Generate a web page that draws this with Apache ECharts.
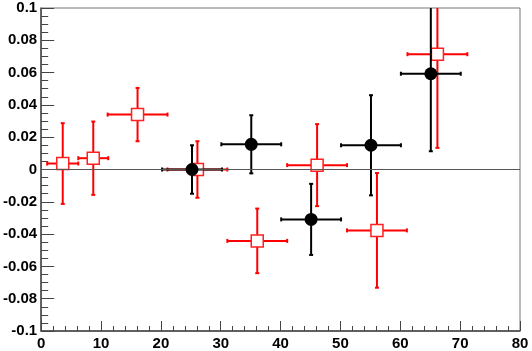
<!DOCTYPE html>
<html>
<head>
<meta charset="utf-8">
<script src="https://cdn.jsdelivr.net/npm/echarts@6/dist/echarts.min.js"></script>
<style>
  html, body { margin: 0; padding: 0; background: #fff; }
  #chart { width: 532px; height: 351px; }
</style>
</head>
<body>
<div id="chart"></div>
<script>
// black points (filled circles)
const blackX = [25.2, 35.1, 45.1, 55.1, 65.1];
const blackY = [0.0, 0.0156, -0.0309, 0.015, 0.0593];
const blackXErr = [5, 5, 5, 5, 5];
const blackYErr = [0.015, 0.018, 0.022, 0.031, 0.048];

// red points (open squares)
const redX = [3.6, 8.7, 16.1, 26.1, 36.1, 46.1, 56.1, 66.2];
const redY = [0.0037, 0.007, 0.034, 0.0, -0.0442, 0.0027, -0.0377, 0.0714];
const redXErr = [2.6, 2.5, 5, 5, 5, 5, 5, 5];
const redYErr = [0.025, 0.0227, 0.0165, 0.0175, 0.02, 0.0254, 0.0355, 0.058];

const xTicks = { min: 0, max: 80, step: 10 };
const yTicks = { min: -0.1, max: 0.1, step: 0.02 };

const chart = echarts.init(document.getElementById('chart'));

const zip = (xs, ys, xe, ye) => xs.map((x, i) => [x, ys[i], xe[i], ye[i]]);

// 误差棒
const errorBars = (color) => (params, api) => {
  const x = api.value(0), y = api.value(1);
  const xe = api.value(2), ye = api.value(3);
  const l = api.coord([x - xe, y]);
  const r = api.coord([x + xe, y]);
  const t = api.coord([x, y + ye]);
  const b = api.coord([x, y - ye]);
  const cap = 2;
  const style = { stroke: color, lineWidth: 2 };
  const line = (x1, y1, x2, y2) => ({ type: 'line', shape: { x1, y1, x2, y2 }, style });
  return {
    type: 'group',
    children: [
      line(l[0], l[1], r[0], r[1]),
      line(t[0], t[1], b[0], b[1]),
      line(l[0], l[1] - cap, l[0], l[1] + cap),
      line(r[0], r[1] - cap, r[0], r[1] + cap),
      line(t[0] - cap, t[1], t[0] + cap, t[1]),
      line(b[0] - cap, b[1], b[0] + cap, b[1])
    ]
  };
};

const labelFont = { fontFamily: 'Liberation Sans', fontWeight: 'bold', fontSize: 15, color: '#000' };

chart.setOption({
  animation: false,
  grid: { left: 40, right: 12, top: 8, bottom: 19, show: true, borderColor: '#777', borderWidth: 1 },
  xAxis: {
    type: 'value',
    min: xTicks.min, max: xTicks.max, interval: xTicks.step,
    axisLine: { onZero: false, lineStyle: { color: '#444', width: 1.5 } },
    axisTick: { inside: true, length: 10, lineStyle: { color: '#444' } },
    minorTick: { show: true, splitNumber: 5, length: 5, lineStyle: { color: '#444' } },
    splitLine: { show: false },
    axisLabel: { ...labelFont, margin: 5, showMinLabel: true, showMaxLabel: true }
  },
  yAxis: {
    type: 'value',
    min: yTicks.min, max: yTicks.max, interval: yTicks.step,
    axisLine: { onZero: false, lineStyle: { color: '#444', width: 1.5 } },
    axisTick: { inside: true, length: 13, lineStyle: { color: '#444' } },
    minorTick: { show: true, splitNumber: 4, length: 7, lineStyle: { color: '#444' } },
    splitLine: { show: false },
    axisLabel: { ...labelFont, margin: 4, showMinLabel: true, showMaxLabel: true }
  },
  series: [
    {
      type: 'custom',
      clip: true,
      renderItem: errorBars('#ff0000'),
      encode: { x: 0, y: 1 },
      data: zip(redX, redY, redXErr, redYErr),
      z: 2,
      markLine: {
        silent: true,
        symbol: 'none',
        label: { show: false },
        lineStyle: { color: '#555', width: 1, type: 'solid' },
        data: [{ yAxis: 0 }]
      }
    },
    {
      type: 'scatter',
      symbol: 'rect',
      symbolSize: 12,
      itemStyle: { color: '#fff', borderColor: '#ff2020', borderWidth: 1.5, opacity: 1 },
      data: redX.map((x, i) => [x, redY[i]]),
      z: 3
    },
    {
      type: 'custom',
      clip: true,
      renderItem: errorBars('#000'),
      encode: { x: 0, y: 1 },
      data: zip(blackX, blackY, blackXErr, blackYErr),
      z: 4
    },
    {
      type: 'scatter',
      symbol: 'circle',
      symbolSize: 13,
      itemStyle: { color: '#000', opacity: 1 },
      data: blackX.map((x, i) => [x, blackY[i]]),
      z: 5
    }
  ]
});
</script>
</body>
</html>
